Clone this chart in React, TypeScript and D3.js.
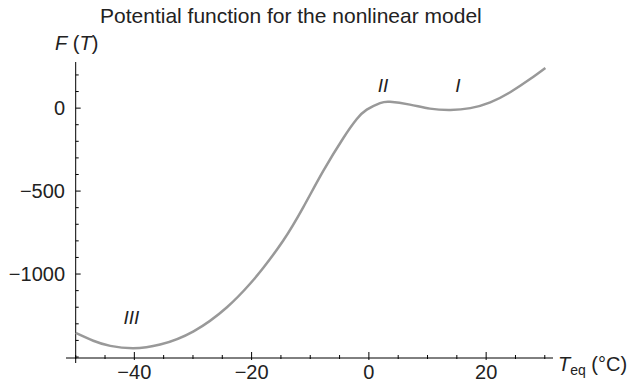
import React from "react";
import * as d3 from "d3";

// Equilibrium temperature (°C) and potential F(T) sampled along the curve
const temps = [-50, -47, -44.1, -40.2, -35.6, -29.9, -24.2, -20.3, -18, -14.6, -11.2, -7.8, -4.35, -2.06, -0.36, 1.9, 3.6, 7, 10.4, 13.9, 17.3, 20.7, 24.1, 27.5, 30.1];
const potential = [-1355, -1402, -1433, -1447, -1425, -1345, -1200, -1060, -962, -798, -598, -380, -180, -66, -9, 30, 38, 21, -3, -11, 0, 35, 96, 175, 242];

const xMajorTicks = [-40, -20, 0, 20];
const yMajorTicks = [0, -500, -1000];
const yTickLabels = ["0", "\u2212500", "\u22121000"];
const xTickLabels = ["\u221240", "\u221220", "0", "20"];

// Labels for the three equilibria
const eqLabels = ["III", "II", "I"];
const eqT = [-40.5, 2.4, 15.2];
const eqF = [-1300, 95, 95];

const W = 636;
const H = 383;
const FONT = "'Liberation Sans', Arial, Helvetica, sans-serif";

export default function App() {
  const x = d3.scaleLinear().domain([-50, 31.4]).range([75.7, 553]);
  const y = d3.scaleLinear().domain([-1506, 278]).range([358, 62]);

  const xMinor = d3.range(-50, 31, 5).filter((v) => !xMajorTicks.includes(v));
  const yMinor = d3.range(-1500, 201, 100).filter((v) => !yMajorTicks.includes(v));

  const pts: [number, number][] = temps.map((t, i) => [t, potential[i]]);
  const line = d3
    .line<[number, number]>()
    .x((d) => x(d[0]))
    .y((d) => y(d[1]))
    .curve(d3.curveNatural);

  const x0 = x(-50);
  const y0 = y(-1506);

  return (
    <svg
      width={W}
      height={H}
      style={{ position: "absolute", left: 0, top: 0, background: "#fff" }}
      fontFamily={FONT}
    >
      <text x={100} y={23} fontSize={21} fill="#222">
        Potential function for the nonlinear model
      </text>
      <text x={55} y={50} fontSize={20} fill="#222">
        <tspan fontStyle="italic">F</tspan>
        <tspan> (</tspan>
        <tspan fontStyle="italic">T</tspan>
        <tspan>)</tspan>
      </text>

      {/* axes */}
      <line x1={x0} x2={x0} y1={62} y2={y0 + 5} stroke="#000" strokeWidth={1} />
      <line x1={66} x2={553} y1={y0} y2={y0} stroke="#000" strokeWidth={1} />

      {yMajorTicks.map((v, i) => (
        <g key={"ym" + v}>
          <line x1={x0} x2={x0 + 5} y1={y(v)} y2={y(v)} stroke="#000" />
          <text x={65} y={y(v) + 7} fontSize={20} textAnchor="end" fill="#222">
            {yTickLabels[i]}
          </text>
        </g>
      ))}
      {yMinor.map((v) => (
        <line key={"yn" + v} x1={x0} x2={x0 + 3} y1={y(v)} y2={y(v)} stroke="#000" />
      ))}

      {xMajorTicks.map((v, i) => (
        <g key={"xm" + v}>
          <line x1={x(v)} x2={x(v)} y1={y0 - 6} y2={y0 + 2} stroke="#000" />
          <text x={x(v)} y={379} fontSize={20} textAnchor="middle" fill="#222">
            {xTickLabels[i]}
          </text>
        </g>
      ))}
      {xMinor.map((v) => (
        <line key={"xn" + v} x1={x(v)} x2={x(v)} y1={y0 - 3} y2={y0 + 1} stroke="#000" />
      ))}

      <text x={558} y={371} fontSize={20} fill="#222">
        <tspan fontStyle="italic">T</tspan>
        <tspan fontSize={14} dy={4}>eq</tspan>
        <tspan dy={-4}> (°C)</tspan>
      </text>

      <path d={line(pts) || ""} fill="none" stroke="#999" strokeWidth={2.5} />

      {eqLabels.map((l, i) => (
        <text
          key={l}
          x={x(eqT[i])}
          y={y(eqF[i])}
          fontSize={19}
          fontStyle="italic"
          textAnchor="middle"
          fill="#222"
        >
          {l}
        </text>
      ))}
    </svg>
  );
}
